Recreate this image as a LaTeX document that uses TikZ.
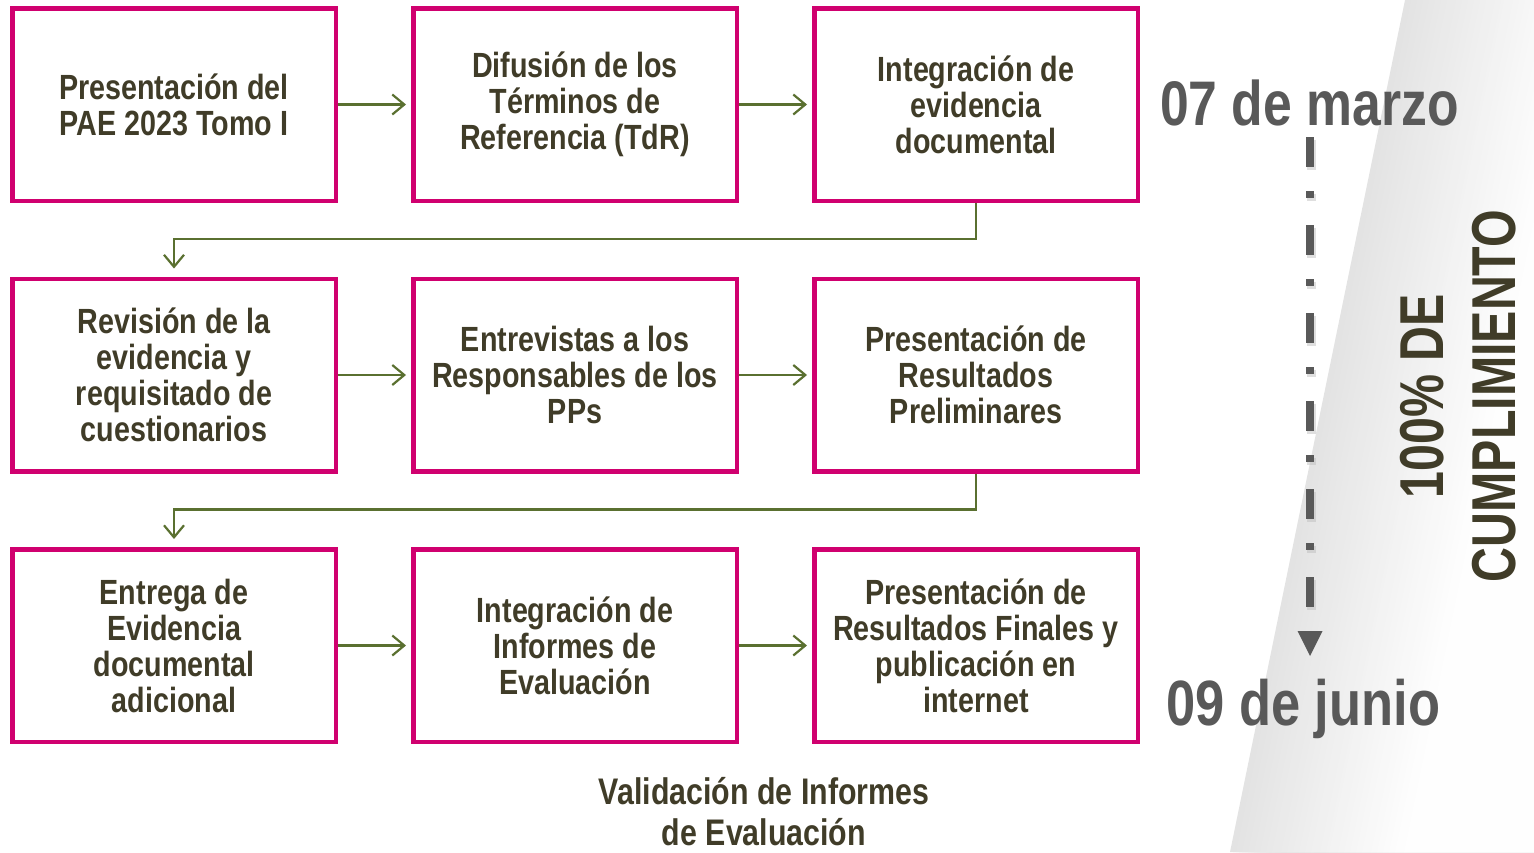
\documentclass[tikz,border=0pt]{standalone}
\usepackage{fontspec}
\setmainfont{Liberation Sans}
\newfontfamily\nf[FakeStretch=0.82]{Liberation Sans}
\newfontfamily\nfr[FakeStretch=0.78]{Liberation Sans}
\usetikzlibrary{arrows.meta}
\definecolor{mag}{RGB}{208,0,111}
\definecolor{olivetext}{RGB}{64,60,40}
\definecolor{grn}{RGB}{90,112,48}
\definecolor{dgray}{RGB}{89,89,89}
\begin{document}
\begin{tikzpicture}[x=1pt,y=-1pt,
  box/.style={draw=mag, line width=4.5pt, minimum width=323.5pt, minimum height=192.5pt,
    inner sep=0pt, align=center, text=olivetext,
    font=\nf\bfseries\fontsize{35}{36}\selectfont},
  arr/.style={draw=grn, line width=2.2pt,
    -{Straight Barb[length=12pt,width=20pt,line width=2.2pt]}, shorten >=5pt},
  datetext/.style={text=dgray, inner sep=0pt},
  note/.style={text=olivetext, align=center}]
\useasboundingbox (0,0) rectangle (1534,852);
% background gradient band
\foreach \i in {0,...,59}{
  \pgfmathsetmacro\g{11*(1-\i/60)}
  \fill[black!\g] (1405+3*\i,0) -- (1540,0) -- (1540,852) -- (1230+3*\i,852) -- cycle;
}
% boxes
\node[box] (b1) at (174,104.5) {Presentación del\\PAE 2023 Tomo I};
\node[box] (b2) at (575,104.5) {Difusión de los\\Términos de\\Referencia (TdR)};
\node[box] (b3) at (976,104.5) {Integración de\\evidencia\\documental};
\node[box] (b4) at (174,375) {Revisión de la\\evidencia y\\requisitado de\\cuestionarios};
\node[box] (b5) at (575,375) {Entrevistas a los\\Responsables de los\\PPs};
\node[box] (b6) at (976,375) {Presentación de\\Resultados\\Preliminares};
\node[box] (b7) at (174,645.5) {Entrega de\\Evidencia\\documental\\adicional};
\node[box] (b8) at (575,645.5) {Integración de\\Informes de\\Evaluación};
\node[box] (b9) at (976,645.5) {Presentación de\\Resultados Finales y\\publicación en\\internet};
% connectors
\draw[arr] (b1) -- (b2);
\draw[arr] (b2) -- (b3);
\draw[arr] (b4) -- (b5);
\draw[arr] (b5) -- (b6);
\draw[arr] (b7) -- (b8);
\draw[arr] (b8) -- (b9);
\draw[arr, shorten >=8pt] (b3.south) -- ++(0,36) -| (b4.north);
\draw[arr, shorten >=8pt] (b6.south) -- ++(0,36) -| (b7.north);
% dates
\node[datetext, anchor=base west, font=\nf\bfseries\fontsize{63}{63}\selectfont] (m) at (1160,125) {07 de marzo};
\node[datetext, anchor=base west, font=\nf\bfseries\fontsize{64}{64}\selectfont] (j) at (1166,725) {09 de junio};
\coordinate (d1) at (1310,137);
\coordinate (d2) at (1310,608);
\coordinate (tip) at (1310,656);
\draw[black!25, opacity=0.5, line width=9pt, dash pattern=on 30pt off 24pt on 7pt off 27pt] ([shift={(1.5,2.5)}]d1) -- ([shift={(1.5,2.5)}]d2);
\draw[dgray, line width=8pt, dash pattern=on 30pt off 24pt on 7pt off 27pt] (d1) -- (d2);
\fill[dgray] (1297.5,631) -- (1322.5,631) -- (tip) -- cycle;
% rotated label
\node[note, rotate=90, font=\nfr\bfseries\fontsize{62}{72}\selectfont] (c) at (1458,396) {100\% DE\\CUMPLIMIENTO};
% bottom label
\node[note, font=\nf\bfseries\fontsize{37}{41}\selectfont] (v) at (764,812) {Validación de Informes\\de Evaluación};
\end{tikzpicture}
\end{document}
